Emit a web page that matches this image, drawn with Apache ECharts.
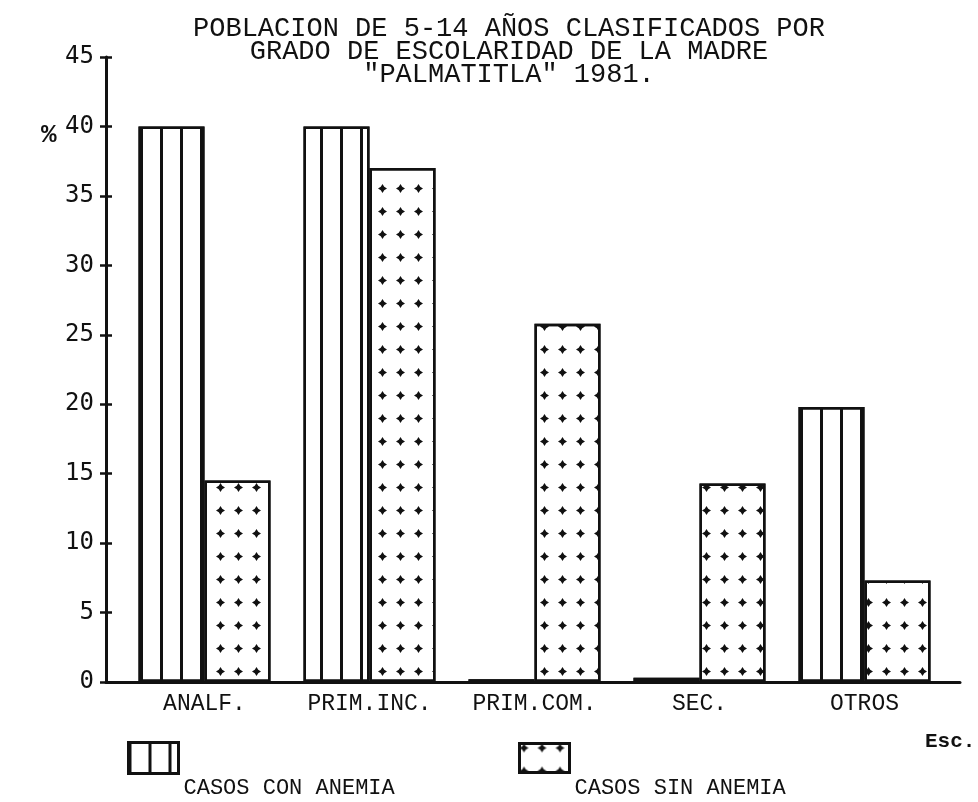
<!DOCTYPE html>
<html>
<head>
<meta charset="utf-8">
<script src="https://cdn.jsdelivr.net/npm/echarts@6/dist/echarts.min.js"></script>
<style>
    html, body { margin: 0; padding: 0; background: #fff; }
    #chart { width: 978px; height: 802px; }
</style>
</head>
<body>
<div id="chart"></div>
<script>
// datos
var categorias = ['ANALF.', 'PRIM.INC.', 'PRIM.COM.', 'SEC.', 'OTROS'];
var conAnemia = [40, 40, 0.2, 0.3, 19.8];   // casos con anemia (%)
var sinAnemia = [14.5, 37, 25.8, 14.3, 7.3]; // casos sin anemia (%)
var yTicks = [0, 45, 5];                    // min, max, intervalo

var tinta = '#111';
var maquina = '"Liberation Mono", "DejaVu Sans Mono", monospace';

// rayas verticales para "con anemia"
var decalRayas = {
    symbol: 'rect',
    symbolSize: 1,
    dashArrayX: [3, 16.5],
    dashArrayY: [1, 0],
    color: tinta
};
// cruces para "sin anemia"
var decalCruces = {
    symbol: 'path://M5,0 L6.9,3.1 L10,5 L6.9,6.9 L5,10 L3.1,6.9 L0,5 L3.1,3.1 Z',
    symbolSize: 1,
    dashArrayX: [9, 9],
    dashArrayY: [9, 14],
    color: tinta
};

// texto de leyenda bajo el icono
function textoAbajo(name) {
    return '\n\n\n' + name;
}

var chart = echarts.init(document.getElementById('chart'));

chart.setOption({
    backgroundColor: '#fff',
    animation: false,
    title: [
        {
            text: 'POBLACION DE 5-14 AÑOS CLASIFICADOS POR\nGRADO DE ESCOLARIDAD DE LA MADRE\n"PALMATITLA" 1981.',
            left: 504,
            top: 12,
            textAlign: 'center',
            textStyle: { fontFamily: maquina, fontSize: 27, fontWeight: 'normal', color: tinta, lineHeight: 23 }
        },
        {
            text: '%',
            left: 36,
            top: 117,
            textStyle: { fontFamily: maquina, fontSize: 26, fontWeight: 'bold', color: tinta }
        },
        {
            text: 'Esc.',
            left: 920,
            top: 726,
            textStyle: { fontFamily: maquina, fontSize: 21, fontWeight: 'bold', color: tinta }
        }
    ],
    legend: [
        {
            data: ['CASOS CON ANEMIA'],
            left: 122,
            top: 712,
            icon: 'rect',
            itemWidth: 50,
            itemHeight: 31,
            selectedMode: false,
            formatter: textoAbajo,
            itemStyle: { borderColor: tinta, borderWidth: 3 },
            textStyle: { fontFamily: maquina, fontSize: 22, color: tinta, lineHeight: 20 }
        },
        {
            data: ['CASOS SIN ANEMIA'],
            left: 513,
            top: 712,
            icon: 'rect',
            itemWidth: 50,
            itemHeight: 29,
            selectedMode: false,
            formatter: textoAbajo,
            itemStyle: { borderColor: tinta, borderWidth: 3 },
            textStyle: { fontFamily: maquina, fontSize: 22, color: tinta, lineHeight: 20 }
        }
    ],
    grid: [
        { left: 122, right: 31, top: 57, bottom: 120 },   // barras
        { left: 106, right: 18, top: 57, bottom: 120 }    // ejes visibles
    ],
    xAxis: [
        {
            type: 'category',
            gridIndex: 0,
            data: categorias,
            axisLine: { show: false },
            axisTick: { show: false },
            axisLabel: { interval: 0, fontFamily: maquina, fontSize: 23, color: tinta, margin: 10 }
        },
        {
            type: 'value',
            gridIndex: 1,
            min: 0,
            max: 1,
            axisLine: { show: true, lineStyle: { color: tinta, width: 3 } },
            axisTick: { show: false },
            axisLabel: { show: false },
            splitLine: { show: false }
        }
    ],
    yAxis: [
        {
            type: 'value',
            gridIndex: 0,
            min: yTicks[0],
            max: yTicks[1],
            interval: yTicks[2],
            show: false
        },
        {
            type: 'value',
            gridIndex: 1,
            position: 'left',
            min: yTicks[0],
            max: yTicks[1],
            interval: yTicks[2],
            axisLine: { show: true, lineStyle: { color: tinta, width: 3 } },
            axisTick: { show: true, length: 6, lineStyle: { color: tinta, width: 2.5 } },
            axisLabel: { fontFamily: '"DejaVu Sans Mono", monospace', fontSize: 24, color: tinta, margin: 12 },
            splitLine: { show: false }
        },
        {
            type: 'value',
            gridIndex: 1,
            position: 'left',
            min: yTicks[0],
            max: yTicks[1],
            interval: yTicks[2],
            axisLine: { show: false },
            axisTick: { show: true, inside: true, length: 6, lineStyle: { color: tinta, width: 2.5 } },
            axisLabel: { show: false },
            splitLine: { show: false }
        }
    ],
    series: [
        {
            name: 'CASOS CON ANEMIA',
            type: 'bar',
            xAxisIndex: 0,
            yAxisIndex: 0,
            barWidth: 66,
            barGap: '0%',
            data: conAnemia,
            itemStyle: { color: '#fff', borderColor: tinta, borderWidth: 2.5, decal: decalRayas }
        },
        {
            name: 'CASOS SIN ANEMIA',
            type: 'bar',
            xAxisIndex: 0,
            yAxisIndex: 0,
            barWidth: 66,
            barGap: '0%',
            data: sinAnemia,
            itemStyle: { color: '#fff', borderColor: tinta, borderWidth: 2.5, decal: decalCruces }
        }
    ]
});
</script>
</body>
</html>
